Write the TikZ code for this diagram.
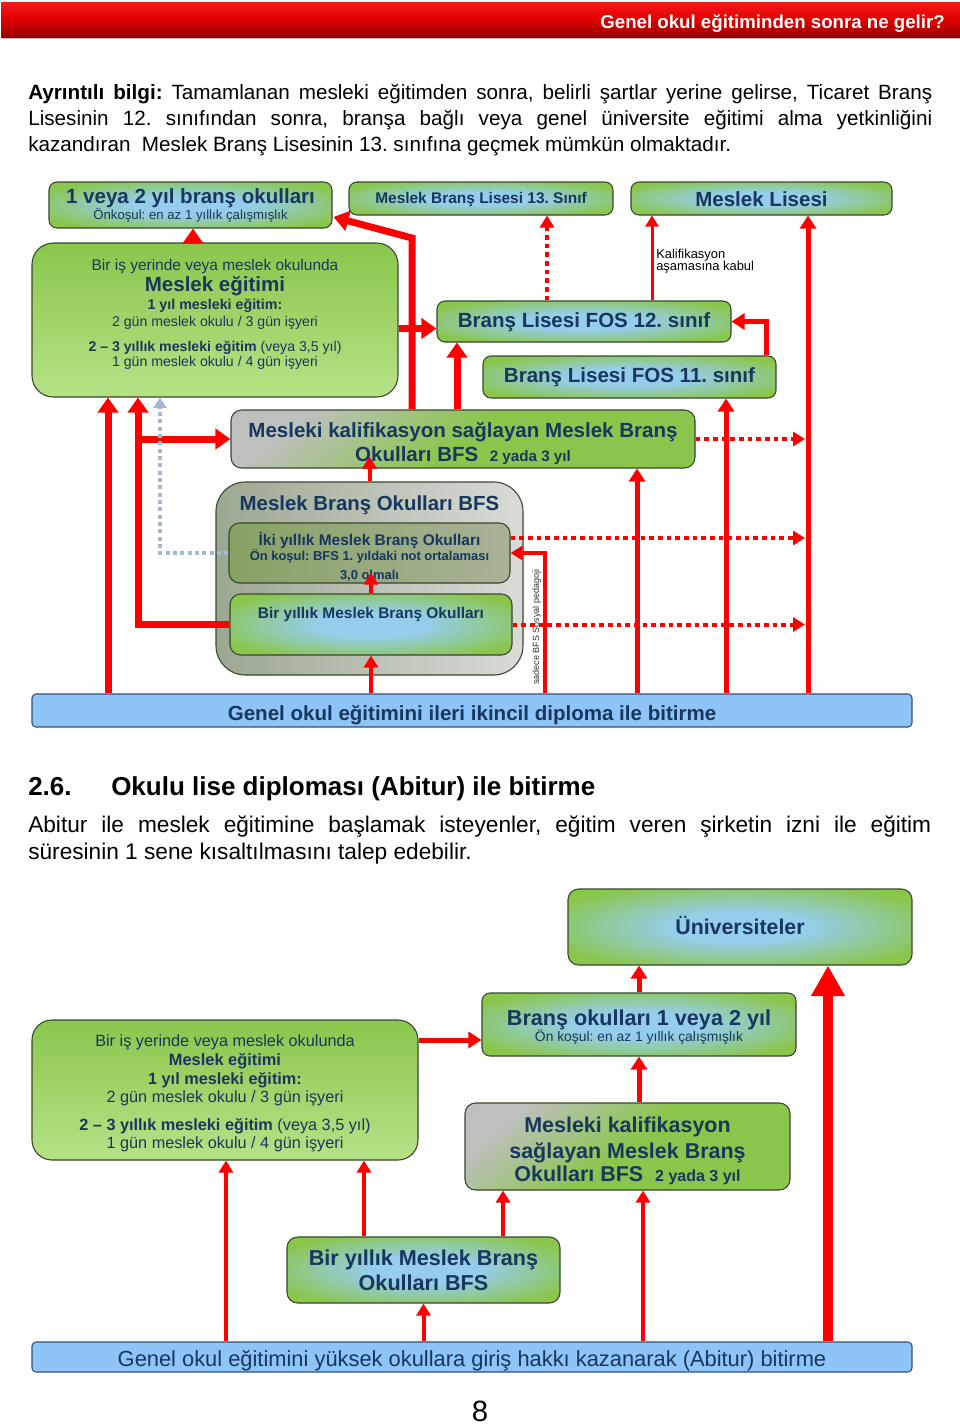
\documentclass[tikz,border=0pt]{standalone}
\usepackage{fontspec}
\setmainfont{Liberation Sans}
\usetikzlibrary{arrows.meta,fit,calc}
\frenchspacing
\definecolor{navy}{RGB}{23,55,94}
\definecolor{gA}{RGB}{138,198,76}
\definecolor{gB}{RGB}{182,226,135}
\definecolor{bl}{RGB}{150,205,235}
\definecolor{brd}{RGB}{55,70,45}
\definecolor{barb}{RGB}{142,196,248}
\definecolor{barbrd}{RGB}{50,80,120}
\definecolor{gr1}{RGB}{190,192,190}
\definecolor{hc1}{RGB}{155,168,145}
\definecolor{hc2}{RGB}{218,219,216}
\definecolor{hh1}{RGB}{135,162,100}
\definecolor{hh2}{RGB}{168,178,152}
\definecolor{lbl}{RGB}{165,185,215}
\definecolor{hd1}{RGB}{245,25,25}
\definecolor{hd2}{RGB}{225,0,0}
\definecolor{hd3}{RGB}{150,0,0}
\pgfdeclareradialshading{glow}{\pgfpoint{0bp}{0bp}}{color(0bp)=(bl); color(10bp)=(bl); color(30bp)=(gA); color(50bp)=(gA)}
\newcommand\myfs[1]{\fontsize{#1}{#1}\selectfont}
\newcommand\mytxt[5]{\node[anchor=base,inner sep=0pt,text=navy,font=#4] (#1) at (#2,#3) {#5};}
\begin{document}
\begin{tikzpicture}[x=0.75pt,y=-0.75pt,
  box/.style={draw=brd,line width=0.8pt,inner sep=0pt,rounded corners=6pt},
  gl/.style={box,shading=glow},
  gv/.style={box,top color=gA,bottom color=gB},
  gg/.style={box,top color=gr1,bottom color=gA,middle color=gA,shading angle=40},
  bar/.style={draw=barbrd,line width=0.8pt,fill=barb,rounded corners=3pt,inner sep=0pt},
  rA/.style={draw=red,line width=5.25pt,-{Triangle[width=15pt,length=11.25pt]}},
  rB/.style={draw=red,line width=3.75pt,-{Triangle[width=12pt,length=9.75pt]}},
  rC/.style={draw=red,line width=3pt,-{Triangle[width=10.5pt,length=9pt]}},
  rD/.style={draw=red,line width=2.25pt,-{Triangle[width=9.75pt,length=8.25pt]}},
  rBig/.style={draw=red,line width=7.5pt,-{Triangle[width=24pt,length=23pt]}},
  dotR/.style={draw=red,line width=3pt,dash pattern=on 3.5pt off 3pt,-{Triangle[width=10.5pt,length=9pt]}},
  dotB/.style={draw=lbl,line width=3pt,dash pattern=on 3pt off 2.5pt,-{Triangle[width=10pt,length=8pt]}}]
\useasboundingbox (0,0) rectangle (960,1425);
\fill[white] (0,0) rectangle (960,1425);
% header
\fill[black!25] (2,37) rectangle (960,39);
\node[inner sep=0pt,top color=hd1,bottom color=hd3,middle color=hd2,fit={(1,2)(960,37)}] (hdr) {};
\node[anchor=base east,inner sep=0pt,text=white,font=\bfseries\myfs{14pt}] (hdrt) at (945,28) {Genel okul eğitiminden sonra ne gelir?};
% paragraph 1
\node[anchor=base west,inner sep=0pt,font=\myfs{15.5pt}] (p1) at (28,99.3) {\makebox[678pt][s]{\textbf{Ayrıntılı bilgi:} Tamamlanan mesleki eğitimden sonra, belirli şartlar yerine gelirse, Ticaret Branş}};
\node[anchor=base west,inner sep=0pt,font=\myfs{15.5pt}] (p2) at (28,125.3) {\makebox[678pt][s]{Lisesinin 12. sınıfından sonra, branşa bağlı veya genel üniversite eğitimi alma yetkinliğini}};
\node[anchor=base west,inner sep=0pt,font=\myfs{15.5pt}] (p3) at (28,151.3) {kazandıran\ \ Meslek Branş Lisesinin 13. sınıfına geçmek mümkün olmaktadır.};
% ---------- diagram 1 boxes
\node[gl,fit={(49,182)(332,228)}] (A) {};
\node[gl,fit={(349,182)(613,215)}] (B) {};
\node[gl,fit={(631,182)(892,215)}] (C) {};
\node[gv,rounded corners=16pt,fit={(32,243)(398,397)}] (D) {};
\node[gl,fit={(437,301)(731,342)}] (E) {};
\node[gl,fit={(483,356)(776,398)}] (F) {};
\node[gg,rounded corners=8pt,fit={(231,410)(695,468)}] (G) {};
\node[box,rounded corners=22pt,left color=hc1,right color=hc2,fit={(216,482)(523,675)}] (H) {};
\node[box,rounded corners=8pt,left color=hh1,right color=hh2,fit={(229,523)(510,583)}] (H1) {};
\node[gl,rounded corners=8pt,fit={(230,594)(512,655)}] (H2) {};
\node[bar,fit={(32,694)(912,727)}] (I) {};
% texts diagram 1
\mytxt{tA1}{190.5}{203}{\bfseries\myfs{15.4pt}}{1 veya 2 yıl branş okulları}
\mytxt{tA2}{190.5}{219}{\myfs{9.9pt}}{Önkoşul: en az 1 yıllık çalışmışlık}
\mytxt{tB}{481}{203.3}{\bfseries\myfs{11.6pt}}{Meslek Branş Lisesi 13. Sınıf}
\mytxt{tC}{761.5}{206.7}{\bfseries\myfs{15.4pt}}{Meslek Lisesi}
\mytxt{tD1}{215}{270}{\myfs{11.6pt}}{Bir iş yerinde veya meslek okulunda}
\mytxt{tD2}{215}{291.7}{\bfseries\myfs{15.4pt}}{Meslek eğitimi}
\mytxt{tD3}{215}{309}{\bfseries\myfs{10.7pt}}{1 yıl mesleki eğitim:}
\mytxt{tD4}{215}{326.5}{\myfs{10.6pt}}{2 gün meslek okulu / 3 gün işyeri}
\mytxt{tD5}{215}{351}{\myfs{10.6pt}}{\textbf{2 – 3 yıllık mesleki eğitim} (veya 3,5 yıl)}
\mytxt{tD6}{215}{366.5}{\myfs{10.6pt}}{1 gün meslek okulu / 4 gün işyeri}
\mytxt{tE}{584}{327.3}{\bfseries\myfs{15.4pt}}{Branş Lisesi FOS 12. sınıf}
\mytxt{tF}{629.5}{382.7}{\bfseries\myfs{15.4pt}}{Branş Lisesi FOS 11. sınıf}
\node[anchor=base west,inner sep=0pt,font=\myfs{9.7pt}] (tK1) at (656,258.3) {Kalifikasyon};
\node[anchor=base west,inner sep=0pt,font=\myfs{9.7pt}] (tK2) at (656,270) {aşamasına kabul};
\mytxt{tG1}{463}{437.7}{\bfseries\myfs{15.4pt}}{Mesleki kalifikasyon sağlayan Meslek Branş}
\mytxt{tG2}{463}{461}{\bfseries\myfs{15.4pt}}{Okulları BFS\ \ {\myfs{11.4pt}2 yada 3 yıl}}
\mytxt{tH}{369.5}{510}{\bfseries\myfs{15.3pt}}{Meslek Branş Okulları BFS}
\mytxt{tH11}{369.5}{545}{\bfseries\myfs{11.6pt}}{İki yıllık Meslek Branş Okulları}
\mytxt{tH12}{369.5}{560}{\bfseries\myfs{9.7pt}}{Ön koşul: BFS 1. yıldaki not ortalaması}
\mytxt{tH13}{369.5}{579.3}{\bfseries\myfs{9.7pt}}{3,0 olmalı}
\mytxt{tH2}{371}{618.3}{\bfseries\myfs{11.6pt}}{Bir yıllık Meslek Branş Okulları}
\mytxt{tI}{472}{720}{\bfseries\myfs{15.4pt}}{Genel okul eğitimini ileri ikincil diploma ile bitirme}
\node[rotate=90,anchor=base,inner sep=0pt,font=\myfs{6.75pt},text=black!80] (tS) at (539,627) {sadece BFS Sosyal pedagoji};
% column coordinates
\foreach \c in {108,138,160,193,412,457,547,652,766,808,726,637,545,805,828,226,364,503,643}
  {\coordinate (c\c) at (\c,0);}
\coordinate (bend412) at (412,238);
\coordinate (aEnd) at ($(A.east)+(1,12)$);
\coordinate (deY) at ($(E.west)+(0,7)$);
\coordinate (h1d) at ($(H1.east)+(0,-15)$);
% arrows diagram 1
\draw[rA] (I.north -| c108) -- (D.south -| c108);
\draw[rA] (H2.west) -- (H2.west -| c138) -- (D.south -| c138);
\draw[rA] (G.west -| c138) -- (G.west);
\draw[dotB] (H1.west) -- (H1.west -| c160) -- (D.south -| c160);
\draw[rA] (D.north -| c193) -- (A.south -| c193);
\draw[rA] (G.north -| c412) -- (bend412) -- (aEnd);
\draw[rA] (deY -| D.east) -- (deY);
\draw[rA] (G.north -| c457) -- (E.south -| c457);
\draw[dotR] (E.north -| c547) -- (B.south -| c547);
\draw[rD] (E.north -| c652) -- (C.south -| c652);
\draw[rB] (F.north -| c766) -- (E.east -| c766) -- (E.east);
\draw[rB] (I.north -| c808) -- (C.south -| c808);
\draw[rB] (I.north -| c726) -- (F.south -| c726);
\draw[rB] (I.north -| c637) -- (G.south -| c637);
\draw[rC] (I.north -| c545) -- (H1.east -| c545) -- (H1.east);
\draw[dotR] (G.east) -- (G.east -| c805);
\draw[dotR] (h1d) -- (h1d -| c805);
\draw[dotR] (H2.east) -- (H2.east -| c805);
\draw[rC] (H.north) -- ($(G.south -| H.north)+(0,-12)$);
\draw[rC] (H2.north) -- ($(H1.south -| H2.north)+(0,-11)$);
\draw[rC] (I.north -| H2.south) -- (H2.south);
% section 2.6
\node[anchor=base west,inner sep=0pt,font=\bfseries\myfs{19.5pt}] (t26a) at (28,795) {2.6.};
\node[anchor=base west,inner sep=0pt,font=\bfseries\myfs{19.5pt}] (t26b) at (111,795) {Okulu lise diploması (Abitur) ile bitirme};
\node[anchor=base west,inner sep=0pt,font=\myfs{17pt}] (q1) at (28,832) {\makebox[677.25pt][s]{Abitur ile meslek eğitimine başlamak isteyenler, eğitim veren şirketin izni ile eğitim}};
\node[anchor=base west,inner sep=0pt,font=\myfs{17pt}] (q2) at (28,859) {süresinin 1 sene kısaltılmasını talep edebilir.};
% ---------- diagram 2 boxes
\node[gl,rounded corners=8pt,fit={(568,889)(912,965)}] (U) {};
\node[gl,fit={(482,993)(796,1056)}] (V) {};
\node[gv,rounded corners=15pt,fit={(32,1020)(418,1160)}] (W) {};
\node[gg,rounded corners=8pt,fit={(465,1103)(790,1190)}] (X) {};
\node[gl,rounded corners=8pt,fit={(287,1237)(560,1303)}] (Y) {};
\node[bar,fit={(32,1342)(912,1372)}] (Z) {};
% texts diagram 2
\mytxt{tU}{740}{934}{\bfseries\myfs{16pt}}{Üniversiteler}
\mytxt{tV1}{639}{1025}{\bfseries\myfs{16.2pt}}{Branş okulları 1 veya 2 yıl}
\mytxt{tV2}{639}{1041.7}{\myfs{10.4pt}}{Ön koşul: en az 1 yıllık çalışmışlık}
\mytxt{tW1}{225}{1046.7}{\myfs{12.2pt}}{Bir iş yerinde veya meslek okulunda}
\mytxt{tW2}{225}{1065.7}{\bfseries\myfs{12.3pt}}{Meslek eğitimi}
\mytxt{tW3}{225}{1084.3}{\bfseries\myfs{12.2pt}}{1 yıl mesleki eğitim:}
\mytxt{tW4}{225}{1102.7}{\myfs{12.2pt}}{2 gün meslek okulu / 3 gün işyeri}
\mytxt{tW5}{225}{1130}{\myfs{12.2pt}}{\textbf{2 – 3 yıllık mesleki eğitim} (veya 3,5 yıl)}
\mytxt{tW6}{225}{1148.3}{\myfs{12.2pt}}{1 gün meslek okulu / 4 gün işyeri}
\mytxt{tX1}{627.5}{1132.3}{\bfseries\myfs{16.1pt}}{Mesleki kalifikasyon}
\mytxt{tX2}{627.5}{1158.3}{\bfseries\myfs{16.1pt}}{sağlayan Meslek Branş}
\mytxt{tX3}{627.5}{1181.7}{\bfseries\myfs{16.1pt}}{Okulları BFS\ \ {\myfs{12pt}2 yada 3 yıl}}
\mytxt{tY1}{423.5}{1265}{\bfseries\myfs{16.2pt}}{Bir yıllık Meslek Branş}
\mytxt{tY2}{423.5}{1290}{\bfseries\myfs{16.2pt}}{Okulları BFS}
\mytxt{tZ}{472}{1366.7}{\myfs{16.4pt}}{Genel okul eğitimini yüksek okullara giriş hakkı kazanarak (Abitur) bitirme}
\coordinate (wv) at ($(V.west)+(0,15.5)$);
% arrows diagram 2
\draw[rB] (V.north) -- (V.north |- U.south);
\draw[rB] (V.south |- X.north) -- (V.south);
\draw[rB] (wv -| W.east) -- (wv);
\draw[rBig] (Z.north -| c828) -- (U.south -| c828);
\draw[rC] (Z.north -| c226) -- (W.south -| c226);
\draw[rC] (Y.north -| c364) -- (W.south -| c364);
\draw[rC] (Y.north -| c503) -- (X.south -| c503);
\draw[rC] (Z.north -| Y.south) -- (Y.south);
\draw[rC] (Z.north -| c643) -- (X.south -| c643);
% page number
\node[anchor=base,inner sep=0pt,font=\myfs{22pt}] (pg) at (480,1421) {8};
\end{tikzpicture}
\end{document}
